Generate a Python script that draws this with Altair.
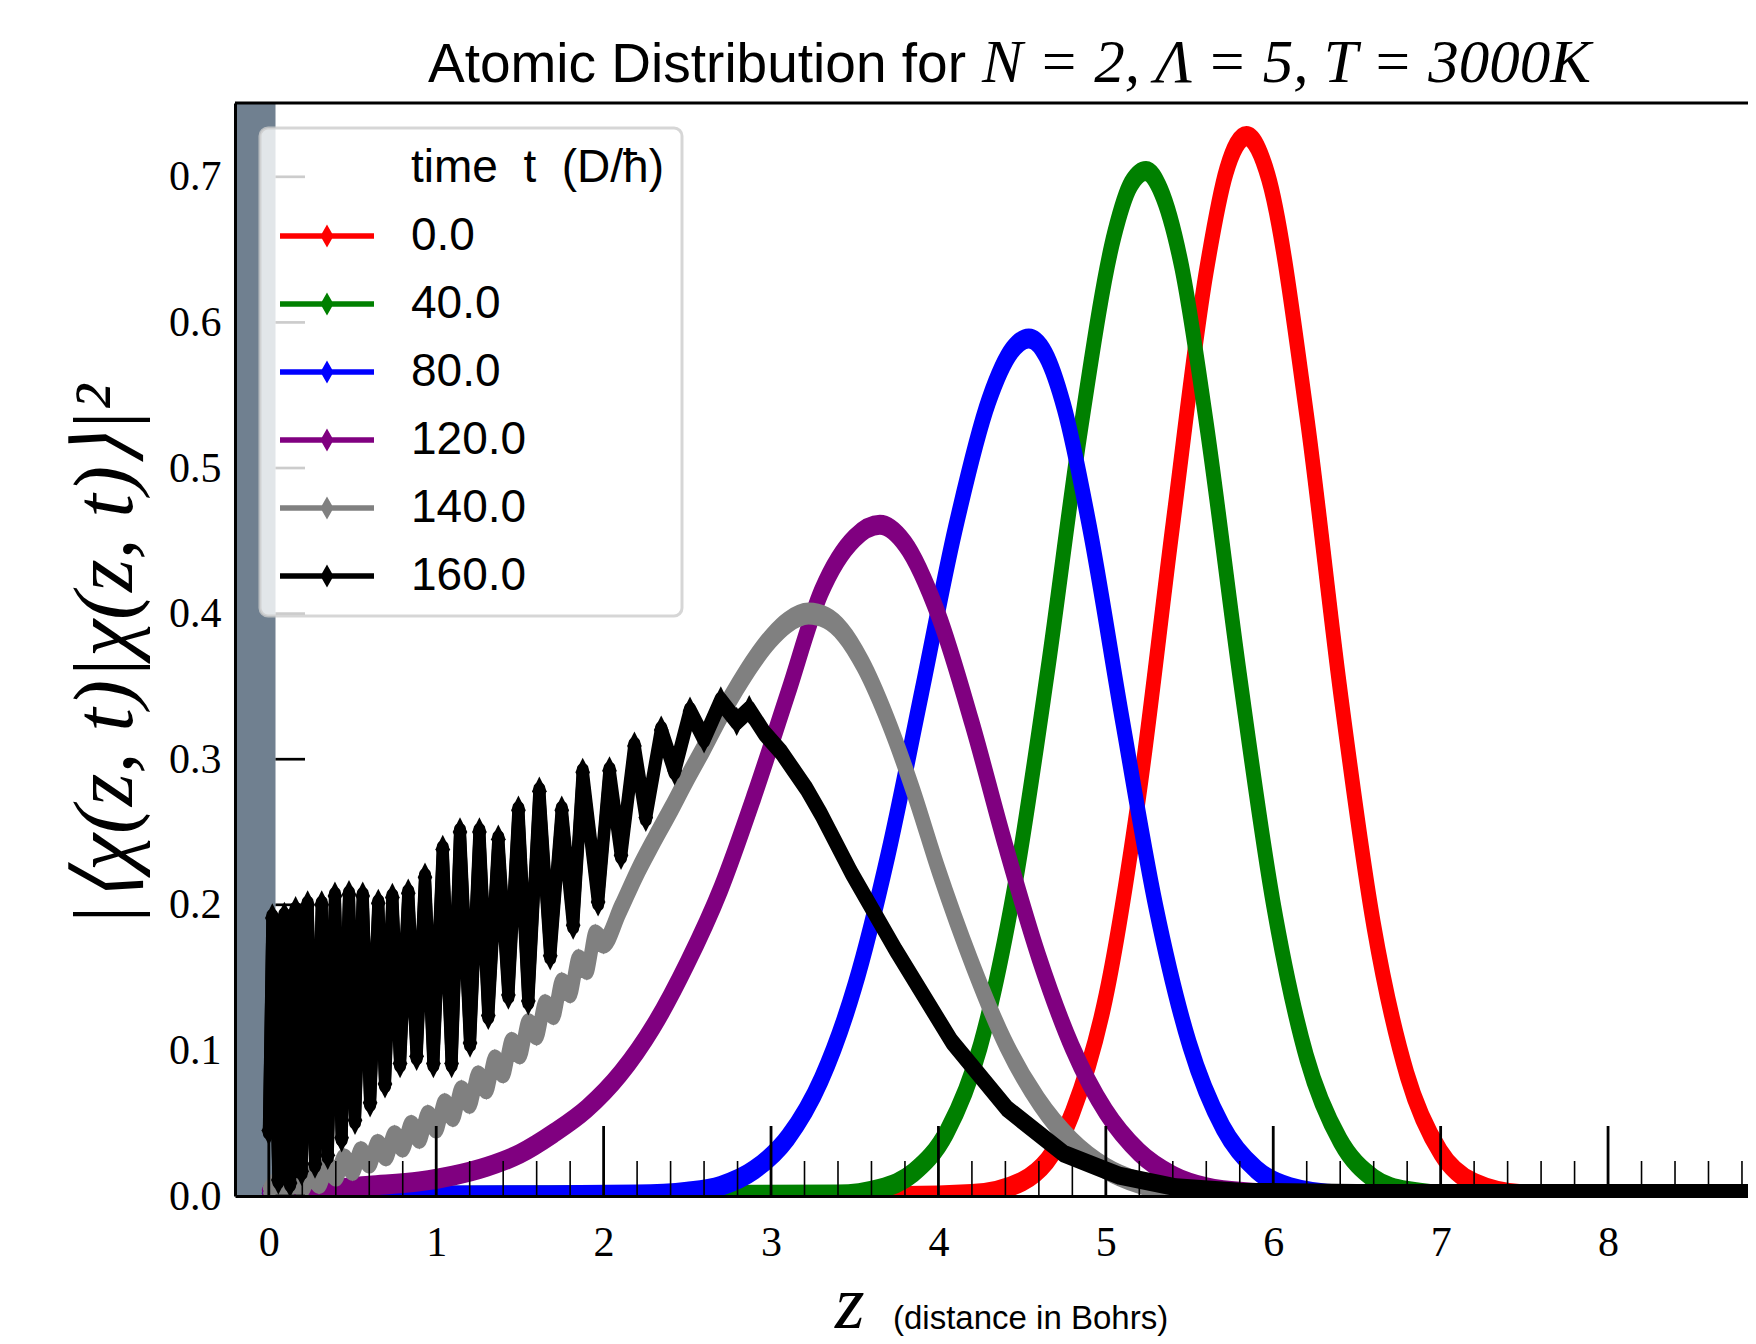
import altair as alt
import pandas as pd

# ---------------- data ----------------
series_labels = ["0.0", "40.0", "80.0", "120.0", "140.0", "160.0"]
series_colors = ["#ff0000", "#008000", "#0000ff", "#800080", "#808080", "#000000"]
legend_head = "time\u00a0\u00a0t\u00a0\u00a0(D/ħ)"

red_z = [0.0, 3.8, 4.2, 4.5, 4.8, 5.0, 5.2, 5.4, 5.6, 5.72, 5.84, 5.97, 6.2, 6.4, 6.6, 6.8, 7.0, 7.2, 7.5, 8.0, 8.9]
red_v = [0.0, 0.0, 0.0013, 0.010, 0.057, 0.137, 0.277, 0.461, 0.635, 0.704, 0.728, 0.700, 0.536, 0.347, 0.186, 0.083, 0.030, 0.009, 0.001, 0.0, 0.0]

green_z = [0.0, 3.4, 3.65, 3.85, 4.05, 4.25, 4.45, 4.65, 4.85, 5.05, 5.15, 5.24, 5.33, 5.45, 5.6, 5.8, 6.0, 6.2, 6.4, 6.6, 6.8, 7.1, 8.9]
green_v = [0.0, 0.001, 0.005, 0.016, 0.044, 0.103, 0.209, 0.359, 0.527, 0.660, 0.695, 0.704, 0.690, 0.640, 0.531, 0.357, 0.201, 0.095, 0.038, 0.012, 0.0035, 0.0005, 0.0]

blue_z = [0.0, 1.5, 2.2, 2.5, 2.7, 2.9, 3.1, 3.3, 3.5, 3.7, 3.9, 4.1, 4.3, 4.44, 4.54, 4.64, 4.75, 4.9, 5.1, 5.3, 5.5, 5.7, 5.9, 6.1, 6.4, 7.0, 8.9]
blue_v = [0.0, 0.0005, 0.001, 0.003, 0.007, 0.018, 0.040, 0.080, 0.144, 0.235, 0.346, 0.458, 0.546, 0.581, 0.589, 0.578, 0.542, 0.461, 0.326, 0.198, 0.104, 0.047, 0.018, 0.006, 0.001, 0.0, 0.0]

purple_z = [0.0, 0.3, 0.6, 0.9, 1.1, 1.3, 1.5, 1.7, 1.9, 2.1, 2.3, 2.5, 2.7, 2.9, 3.1, 3.3, 3.5, 3.65, 3.8, 4.0,
            4.2, 4.4, 4.6, 4.8, 5.0, 5.2, 5.4, 5.6, 5.9, 6.3, 8.9]
purple_v = [0.002, 0.004, 0.007, 0.010, 0.014, 0.020, 0.029, 0.043, 0.060, 0.084, 0.117, 0.160, 0.211, 0.275, 0.345, 0.415, 0.452, 0.461, 0.448, 0.399,
            0.325, 0.241, 0.164, 0.102, 0.058, 0.030, 0.014, 0.006, 0.002, 0.0, 0.0]

gray_z = [0.00, 0.05, 0.10, 0.15, 0.20, 0.25, 0.30, 0.35, 0.40, 0.45, 0.50, 0.55, 0.60, 0.65, 0.70, 0.75, 0.80, 0.85, 0.90, 0.95,
          1.00, 1.05, 1.10, 1.15, 1.20, 1.25, 1.30, 1.35, 1.40, 1.45, 1.50, 1.55, 1.60, 1.65, 1.70, 1.75, 1.80, 1.85, 1.90, 1.95,
          2.00, 2.10, 2.20, 2.30, 2.40, 2.50, 2.60, 2.70, 2.80, 2.90, 3.00, 3.10, 3.224, 3.33, 3.43, 3.55, 3.70, 3.85, 4.00, 4.20,
          4.40, 4.60, 4.80, 5.00, 5.20, 5.40, 5.70, 6.20, 8.90]
gray_v = [0.002, 0.009, 0.003, 0.012, 0.006, 0.016, 0.009, 0.020, 0.014, 0.025, 0.018, 0.030, 0.023, 0.035, 0.028, 0.041, 0.034, 0.048, 0.040, 0.055,
          0.047, 0.063, 0.055, 0.072, 0.064, 0.082, 0.074, 0.093, 0.085, 0.105, 0.098, 0.118, 0.111, 0.131, 0.125, 0.146, 0.140, 0.162, 0.156, 0.179,
          0.174, 0.197, 0.222, 0.244, 0.265, 0.287, 0.308, 0.330, 0.350, 0.368, 0.383, 0.394, 0.400, 0.397, 0.387, 0.365, 0.326, 0.278, 0.224, 0.160,
          0.105, 0.065, 0.037, 0.019, 0.009, 0.004, 0.001, 0.0, 0.0]

black_z = [0.000, 0.021, 0.057, 0.093, 0.127, 0.160, 0.196, 0.232, 0.276, 0.316,
           0.352, 0.395, 0.435, 0.479, 0.515, 0.561, 0.605, 0.654, 0.694, 0.738,
           0.784, 0.833, 0.883, 0.933, 0.983, 1.039, 1.092, 1.142, 1.202, 1.258,
           1.311, 1.371, 1.431, 1.491, 1.550, 1.616, 1.681, 1.750, 1.818, 1.875,
           1.967, 2.035, 2.104, 2.184, 2.252, 2.344, 2.424, 2.516, 2.600, 2.700,
           2.795, 2.870, 2.960, 3.060, 3.210, 3.300, 3.480, 3.750, 4.080, 4.410,
           4.750, 5.080, 5.420, 5.800, 6.500, 7.500, 8.900]
black_v = [0.045, 0.191, 0.011, 0.192, 0.009, 0.196, 0.017, 0.200, 0.022, 0.200,
           0.028, 0.206, 0.040, 0.207, 0.052, 0.206, 0.064, 0.201, 0.077, 0.205,
           0.091, 0.208, 0.096, 0.219, 0.091, 0.238, 0.091, 0.250, 0.105, 0.250,
           0.124, 0.245, 0.138, 0.265, 0.134, 0.278, 0.165, 0.265, 0.186, 0.291,
           0.202, 0.292, 0.234, 0.309, 0.260, 0.320, 0.292, 0.333, 0.314, 0.340,
           0.326, 0.334, 0.318, 0.305, 0.280, 0.262, 0.222, 0.168, 0.106, 0.060,
           0.029, 0.014, 0.006, 0.003, 0.002, 0.002, 0.002]

x_major = [0, 1, 2, 3, 4, 5, 6, 7, 8]
x_minor = [round(0.2 * i, 1) for i in range(1, 45) if i % 5 != 0]
y_ticks = [0.0, 0.1, 0.2, 0.3, 0.4, 0.5, 0.6, 0.7]

title_text = "Atomic Distribution for"
title_math = "N = 2,  Λ = 5,  T = 3000K"
y_title = "|⟨χ(z, t)|χ(z, t)⟩|²"
x_title_sym = "z"
x_title_txt = "(distance in Bohrs)"

# ---------------- layout ----------------
W, H = 1513, 1093
XMIN, XMAX = -0.202, 8.836
YMAX = 0.7507
BAND_END = 0.04
PX_PER_V = H / YMAX
PX_PER_Z = W / (XMAX - XMIN)

xs = alt.Scale(domain=[XMIN, XMAX], nice=False, zero=False)
ys = alt.Scale(domain=[0, YMAX], nice=False, zero=False)

SERIF = "Liberation Serif"
SANS = "Liberation Sans"

x_axis = alt.Axis(values=x_major, format="d", title=None, labelFont=SERIF, labelFontSize=42,
                  labelColor="black", labelPadding=26, ticks=False, tickSize=0, domainColor="black",
                  domainWidth=3, grid=False, labelFlush=False, labelOverlap=False, zindex=1)
y_axis = alt.Axis(values=y_ticks, format=".1f", title=y_title, titleFont=SERIF, titleFontSize=84,
                  titleFontStyle="italic", titleFontWeight="normal", titleColor="black",
                  titleX=-129, titleY=H / 2 + 6, titleAngle=270, titleAlign="center", titleBaseline="middle",
                  labelFont=SERIF, labelFontSize=42, labelColor="black", labelPadding=14,
                  ticks=False, tickSize=0, domainColor="black", domainWidth=3, grid=False,
                  labelOverlap=False, zindex=1)


def X(field):
    return alt.X(field, scale=xs, axis=x_axis)


def Y(field):
    return alt.Y(field, scale=ys, axis=y_axis)


LEG_PATH = "M-2.35,0L2.35,0M0,-0.3L0.17,0L0,0.3L-0.17,0Z"
legend = alt.Legend(title=None, orient="none", legendX=25, legendY=25, padding=17,
                    fillColor="rgba(255,255,255,0.8)", strokeColor="rgba(204,204,204,0.8)",
                    cornerRadius=8, labelFont=SANS, labelFontSize=46, labelColor="black",
                    labelLimit=600, labelOffset=61, symbolType=LEG_PATH, symbolSize=1600,
                    symbolStrokeWidth=5.5, symbolOffset=27, rowPadding=22)

color_enc = alt.Color("series:N",
                      scale=alt.Scale(domain=[legend_head] + series_labels,
                                      range=["rgba(0,0,0,0)"] + series_colors),
                      legend=legend)

layers = []

band_df = pd.DataFrame({"z": [XMIN], "z1": [BAND_END], "v": [0.0], "v1": [YMAX]})
layers.append(
    alt.Chart(band_df).mark_rect(color="#708090").encode(
        x=X("z:Q"), x2="z1:Q", y=Y("v:Q"), y2="v1:Q")
)

DIAMOND = "M0,-1L0.5,0L0,1L-0.5,0Z"

series_data = [
    ("0.0", red_z, red_v, "monotone", 14, 3, None),
    ("40.0", green_z, green_v, "monotone", 14, 3, None),
    ("80.0", blue_z, blue_v, "monotone", 14, 3, None),
    ("120.0", purple_z, purple_v, "monotone", 14, 3, None),
    ("140.0", gray_z, gray_v, "monotone", 12, 5, (2.05, 560)),
    ("160.0", black_z, black_v, "linear", 12, 3, (2.9, 860)),
]

for lab, z, v, interp, w, off, marks in series_data:
    df = pd.DataFrame({"z": z, "v": v, "series": lab})
    for o in (-off, off):
        layers.append(
            alt.Chart(df).mark_line(clip=True, yOffset=o, interpolate=interp,
                                    strokeJoin="round", strokeCap="round").encode(
                x=X("z:Q"), y=Y("v:Q"), color=color_enc, strokeWidth=alt.value(w))
        )
    if marks is not None:
        zmax, msize = marks
        mdf = df[df["z"] < zmax]
        col = series_colors[series_labels.index(lab)]
        layers.append(
            alt.Chart(mdf).mark_point(shape=DIAMOND, filled=True, size=msize, clip=True, opacity=1,
                                      color=col, strokeWidth=0).encode(x=X("z:Q"), y=Y("v:Q"))
        )

# inward ticks
maj_df = pd.DataFrame({"z": x_major, "v": 0.0, "v1": 70 / PX_PER_V})
min_df = pd.DataFrame({"z": x_minor, "v": 0.0, "v1": 35 / PX_PER_V})
yt_df = pd.DataFrame({"v": y_ticks, "z": BAND_END, "z1": XMIN + 70 / PX_PER_Z})
layers.append(alt.Chart(maj_df).mark_rule(color="black", strokeWidth=2.8).encode(
    x=X("z:Q"), y=Y("v:Q"), y2="v1:Q"))
layers.append(alt.Chart(min_df).mark_rule(color="black", strokeWidth=1.6).encode(
    x=X("z:Q"), y=Y("v:Q"), y2="v1:Q"))
layers.append(alt.Chart(yt_df).mark_rule(color="black", strokeWidth=2.7).encode(
    y=Y("v:Q"), x=X("z:Q"), x2="z1:Q"))

# top frame line
layers.append(alt.Chart(pd.DataFrame({"k": [0]})).mark_rule(color="black", strokeWidth=3).encode(
    x=alt.value(0), x2=alt.value(W), y=alt.value(0)))


def label(text, x, y, font, size, style="normal"):
    return alt.Chart(pd.DataFrame({"t": [text]})).mark_text(
        align="left", baseline="alphabetic", font=font, fontSize=size, fontStyle=style,
        color="black").encode(text="t:N", x=alt.value(x), y=alt.value(y))


layers.append(label(title_text, 193, -21, SANS, 55))
layers.append(label(title_math, 747, -21, SERIF, 61, "italic"))
layers.append(label(x_title_sym, 600, 1225, SERIF, 76, "italic"))
layers.append(label(x_title_txt, 658, 1226, SANS, 33))

chart = alt.layer(*layers).properties(
    width=W, height=H,
    autosize=alt.AutoSizeParams(type="none"),
    padding={"left": 227, "top": 95, "right": 0, "bottom": 148},
    background="white",
).configure_view(stroke="transparent").configure_legend(strokeWidth=3)

chart.save("out.html", embed_options={"renderer": "svg", "actions": False})
